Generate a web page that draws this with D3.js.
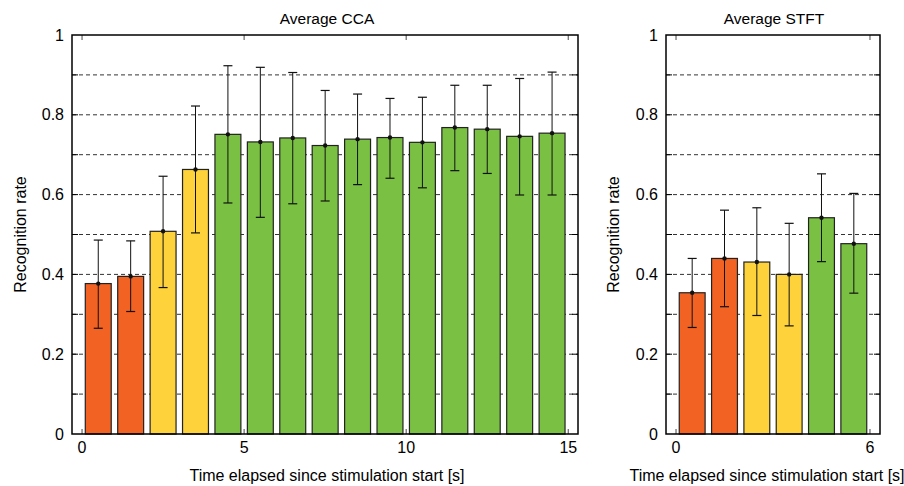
<!DOCTYPE html>
<html><head><meta charset="utf-8">
<script src="https://cdn.jsdelivr.net/npm/d3@7"></script>
<style>
body{margin:0;background:#fff;}
svg{font-family:"Liberation Sans",Arial,Helvetica,sans-serif;}
</style></head>
<body><svg id="c" width="904" height="486"></svg>
<script>
// CCA data (time bins 0-1 ... 14-15 s)
const ccaTime = [0.5,1.5,2.5,3.5,4.5,5.5,6.5,7.5,8.5,9.5,10.5,11.5,12.5,13.5,14.5];
const ccaMean = [0.377,0.395,0.508,0.663,0.751,0.732,0.742,0.723,0.739,0.743,0.731,0.768,0.764,0.746,0.754];
const ccaHigh = [0.486,0.484,0.646,0.822,0.923,0.919,0.906,0.861,0.852,0.841,0.844,0.874,0.874,0.891,0.907];
const ccaLow  = [0.265,0.307,0.367,0.504,0.579,0.543,0.577,0.584,0.625,0.641,0.617,0.660,0.653,0.599,0.599];
const ccaGroup = ["low","low","mid","mid","high","high","high","high","high","high","high","high","high","high","high"];
// STFT data
const stftTime = [0.5,1.5,2.5,3.5,4.5,5.5];
const stftMean = [0.354,0.440,0.431,0.400,0.542,0.477];
const stftHigh = [0.440,0.561,0.567,0.528,0.652,0.603];
const stftLow  = [0.267,0.319,0.297,0.271,0.432,0.353];
const stftGroup = ["low","low","mid","mid","high","high"];
// axes
const yTicksMajor = [0,0.2,0.4,0.6,0.8,1];
const yTicksMinor = [0.1,0.2,0.3,0.4,0.5,0.6,0.7,0.8,0.9];
const ccaXTicks = [0,5,10,15];
const stftXTicks = [0,6];
const titles = ["Average CCA","Average STFT"];
const xLabel = "Time elapsed since stimulation start [s]";
const yLabel = "Recognition rate";

const colors = {low:"#F26223", mid:"#FDD23B", high:"#7AC143"};
const svg = d3.select("#c");

function panel(opt){
  const {left,right,top,bottom,xDom,times,mean,hi,lo,grp,xticks,title,ylabX,xlabX,titleX} = opt;
  const x = d3.scaleLinear().domain(xDom).range([left,right]);
  const y = d3.scaleLinear().domain([0,1]).range([bottom,top]);
  const g = svg.append("g");
  g.selectAll("line.grid").data(yTicksMinor).enter().append("line")
    .attr("x1",left).attr("x2",right).attr("y1",d=>y(d)).attr("y2",d=>y(d))
    .attr("stroke","#333").attr("stroke-width",1).attr("stroke-dasharray","4,3");
  const bw = x(0.8)-x(0);
  g.selectAll("rect.bar").data(times).enter().append("rect")
    .attr("x",(d)=>x(d)-bw/2).attr("width",bw)
    .attr("y",(d,i)=>y(mean[i])).attr("height",(d,i)=>y(0)-y(mean[i]))
    .attr("fill",(d,i)=>colors[grp[i]]).attr("stroke","#222").attr("stroke-width",1.2);
  const cap = 4.5;
  const eb = g.selectAll("g.eb").data(times).enter().append("g");
  eb.append("line").attr("x1",d=>x(d)).attr("x2",d=>x(d))
    .attr("y1",(d,i)=>y(hi[i])).attr("y2",(d,i)=>y(lo[i])).attr("stroke","#111").attr("stroke-width",1);
  eb.append("line").attr("x1",d=>x(d)-cap).attr("x2",d=>x(d)+cap)
    .attr("y1",(d,i)=>y(hi[i])).attr("y2",(d,i)=>y(hi[i])).attr("stroke","#111").attr("stroke-width",1.2);
  eb.append("line").attr("x1",d=>x(d)-cap).attr("x2",d=>x(d)+cap)
    .attr("y1",(d,i)=>y(lo[i])).attr("y2",(d,i)=>y(lo[i])).attr("stroke","#111").attr("stroke-width",1.2);
  eb.append("circle").attr("cx",d=>x(d)).attr("cy",(d,i)=>y(mean[i])).attr("r",2.2).attr("fill","#111");
  const tl = 6;
  g.selectAll("line.tl").data(yTicksMinor).enter().append("line")
    .attr("x1",left).attr("x2",left+tl).attr("y1",d=>y(d)).attr("y2",d=>y(d)).attr("stroke","#000");
  g.selectAll("line.tr").data(yTicksMinor).enter().append("line")
    .attr("x1",right-tl).attr("x2",right).attr("y1",d=>y(d)).attr("y2",d=>y(d)).attr("stroke","#000");
  g.selectAll("line.xb").data(xticks).enter().append("line")
    .attr("x1",d=>x(d)).attr("x2",d=>x(d)).attr("y1",bottom).attr("y2",bottom-5).attr("stroke","#666").attr("stroke-width",1.2);
  g.selectAll("line.xt").data(xticks).enter().append("line")
    .attr("x1",d=>x(d)).attr("x2",d=>x(d)).attr("y1",top).attr("y2",top+5).attr("stroke","#666").attr("stroke-width",1.2);
  g.append("rect").attr("x",left).attr("y",top).attr("width",right-left).attr("height",bottom-top)
    .attr("fill","none").attr("stroke","#000").attr("stroke-width",1.5);
  g.selectAll("text.yl").data(yTicksMajor).enter().append("text")
    .attr("x",left-8).attr("y",d=>y(d)).attr("dy","0.35em").attr("text-anchor","end")
    .attr("font-size",16).text(d=>d3.format("~g")(d));
  g.selectAll("text.xl").data(xticks).enter().append("text")
    .attr("x",d=>x(d)).attr("y",bottom+13).attr("dy","0.35em").attr("text-anchor","middle")
    .attr("font-size",16).text(d=>d);
  g.append("text").attr("x",titleX).attr("y",24).attr("text-anchor","middle")
    .attr("font-size",15.5).text(title);
  g.append("text").attr("x",xlabX).attr("y",481).attr("text-anchor","middle")
    .attr("font-size",16).text(xLabel);
  g.append("text").attr("transform",`translate(${ylabX},${(top+bottom)/2}) rotate(-90)`)
    .attr("text-anchor","middle").attr("font-size",16).text(yLabel);
}

panel({left:72,right:578,top:35,bottom:434,xDom:[-0.31,15.3],times:ccaTime,mean:ccaMean,hi:ccaHigh,lo:ccaLow,grp:ccaGroup,xticks:ccaXTicks,title:titles[0],ylabX:26,xlabX:327,titleX:327});
panel({left:666,right:880,top:35,bottom:434,xDom:[-0.31,6.31],times:stftTime,mean:stftMean,hi:stftHigh,lo:stftLow,grp:stftGroup,xticks:stftXTicks,title:titles[1],ylabX:619,xlabX:767,titleX:774});
</script></body></html>
